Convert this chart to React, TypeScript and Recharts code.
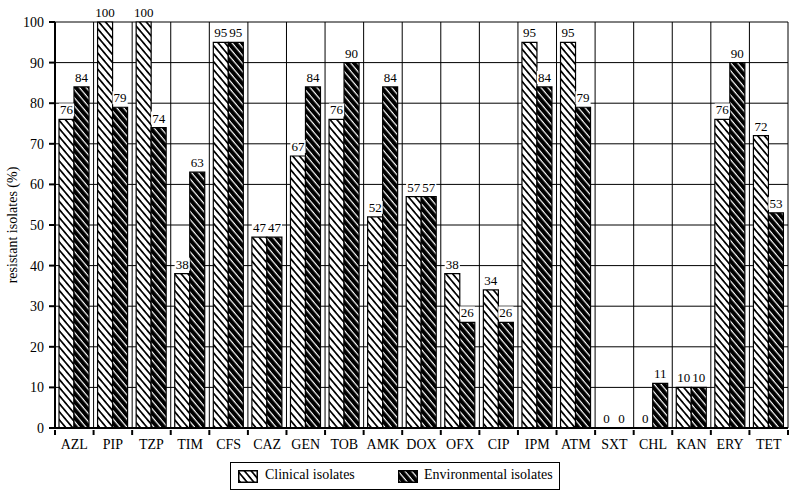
import { BarChart, Bar, XAxis, YAxis, CartesianGrid, LabelList } from 'recharts';

const FONT = "'Liberation Serif', 'Times New Roman', Times, serif";

const categories = ['AZL', 'PIP', 'TZP', 'TIM', 'CFS', 'CAZ', 'GEN', 'TOB', 'AMK', 'DOX', 'OFX', 'CIP', 'IPM', 'ATM', 'SXT', 'CHL', 'KAN', 'ERY', 'TET'];
const clinical = [76, 100, 100, 38, 95, 47, 67, 76, 52, 57, 38, 34, 95, 95, 0, 0, 10, 76, 72];
const environmental = [84, 79, 74, 63, 95, 47, 84, 90, 84, 57, 26, 26, 84, 79, 0, 11, 10, 90, 53];
const yTicks = [0, 10, 20, 30, 40, 50, 60, 70, 80, 90, 100];

const data = categories.map((name, i) => ({
  name,
  clinical: clinical[i],
  environmental: environmental[i],
}));

function HatchDefs({ prefix }: { prefix: string }) {
  return (
    <defs>
      <pattern id={`${prefix}-white`} patternUnits="userSpaceOnUse" width={8} height={5.2} patternTransform="rotate(50)">
        <rect width={8} height={5.2} fill="#fff" />
        <rect width={8} height={1.7} fill="#000" />
      </pattern>
      <pattern id={`${prefix}-black`} patternUnits="userSpaceOnUse" width={8} height={5.2} patternTransform="rotate(50)">
        <rect width={8} height={5.2} fill="#000" />
        <rect width={8} height={1.2} fill="#fff" />
      </pattern>
    </defs>
  );
}

function ValueLabel(props: any) {
  const { x, y, width, value } = props;
  if (value === undefined || value === null) return null;
  const cx = x + width / 2;
  const w = String(value).length * 6.6 + 2;
  return (
    <g>
      <rect x={cx - w / 2} y={y - 16} width={w} height={13} fill="#fff" />
      <text x={cx} y={y - 5} textAnchor="middle" fontSize={13} fontFamily={FONT} fill="#000">
        {value}
      </text>
    </g>
  );
}

function CategoryTick(props: any) {
  const { x, y, payload, width, visibleTicksCount, index } = props;
  const band = width / visibleTicksCount;
  return (
    <g>
      <line x1={x - band / 2} y1={y} x2={x - band / 2} y2={y + 5} stroke="#000" strokeWidth={2} />
      {index === visibleTicksCount - 1 && (
        <line x1={x + band / 2} y1={y} x2={x + band / 2} y2={y + 5} stroke="#000" strokeWidth={2} />
      )}
      <text x={x} y={y + 19} textAnchor="middle" fontSize={14} fontFamily={FONT} fill="#000">
        {payload.value}
      </text>
    </g>
  );
}

function YLabel(props: any) {
  const vb = props.viewBox || {};
  const cx = 12;
  const cy = (vb.y ?? 22) + (vb.height ?? 406) / 2;
  return (
    <text
      x={cx}
      y={cy}
      transform={`rotate(-90 ${cx} ${cy})`}
      textAnchor="middle"
      dominantBaseline="central"
      fontSize={14}
      fontFamily={FONT}
      fill="#000"
    >
      resistant isolates (%)
    </text>
  );
}

function Swatch({ fill }: { fill: string }) {
  return (
    <svg width={20} height={13} style={{ display: 'block' }}>
      <HatchDefs prefix="lg" />
      <rect x={0.75} y={0.75} width={18.5} height={11.5} fill={`url(#lg-${fill})`} stroke="#000" strokeWidth={1.5} />
    </svg>
  );
}

export default function App() {
  return (
    <div style={{ position: 'absolute', left: 0, top: 0, width: 800, height: 498, background: '#fff' }}>
      <BarChart
        width={800}
        height={498}
        data={data}
        margin={{ top: 22, right: 12, left: 0, bottom: 40 }}
        barCategoryGap={4}
        barGap={0}
      >
        <HatchDefs prefix="bar" />
        <CartesianGrid
          stroke="#000"
          strokeWidth={1}
          verticalCoordinatesGenerator={({ offset }: any) =>
            Array.from({ length: categories.length + 1 }, (_, i) => offset.left + (i * offset.width) / categories.length)
          }
        />
        <XAxis
          dataKey="name"
          height={30}
          interval={0}
          tickLine={false}
          tickSize={0}
          axisLine={{ stroke: '#000', strokeWidth: 2 }}
          tick={<CategoryTick />}
        />
        <YAxis
          width={55}
          domain={[0, 100]}
          ticks={yTicks}
          interval={0}
          tickSize={6}
          tickMargin={5}
          tickLine={{ stroke: '#000', strokeWidth: 2 }}
          axisLine={{ stroke: '#000', strokeWidth: 2 }}
          tick={{ fill: '#000', fontSize: 14, fontFamily: FONT }}
          label={<YLabel />}
        />
        <Bar dataKey="clinical" fill="url(#bar-white)" stroke="#000" strokeWidth={1.2} minPointSize={0.01} isAnimationActive={false}>
          <LabelList dataKey="clinical" content={<ValueLabel />} />
        </Bar>
        <Bar dataKey="environmental" fill="url(#bar-black)" stroke="#000" strokeWidth={1.2} minPointSize={0.01} isAnimationActive={false}>
          <LabelList dataKey="environmental" content={<ValueLabel />} />
        </Bar>
      </BarChart>
      <div
        style={{
          position: 'absolute',
          left: 230,
          top: 462,
          width: 330,
          height: 28,
          border: '1.5px solid #000',
          boxSizing: 'border-box',
          fontFamily: FONT,
          fontSize: 14,
          color: '#000',
        }}
      >
        <div style={{ position: 'absolute', left: 7, top: 6.5 }}>
          <Swatch fill="white" />
        </div>
        <div style={{ position: 'absolute', left: 34, top: 3, lineHeight: '18px' }}>Clinical isolates</div>
        <div style={{ position: 'absolute', left: 167, top: 6.5 }}>
          <Swatch fill="black" />
        </div>
        <div style={{ position: 'absolute', left: 193, top: 3, lineHeight: '18px' }}>Environmental isolates</div>
      </div>
    </div>
  );
}
